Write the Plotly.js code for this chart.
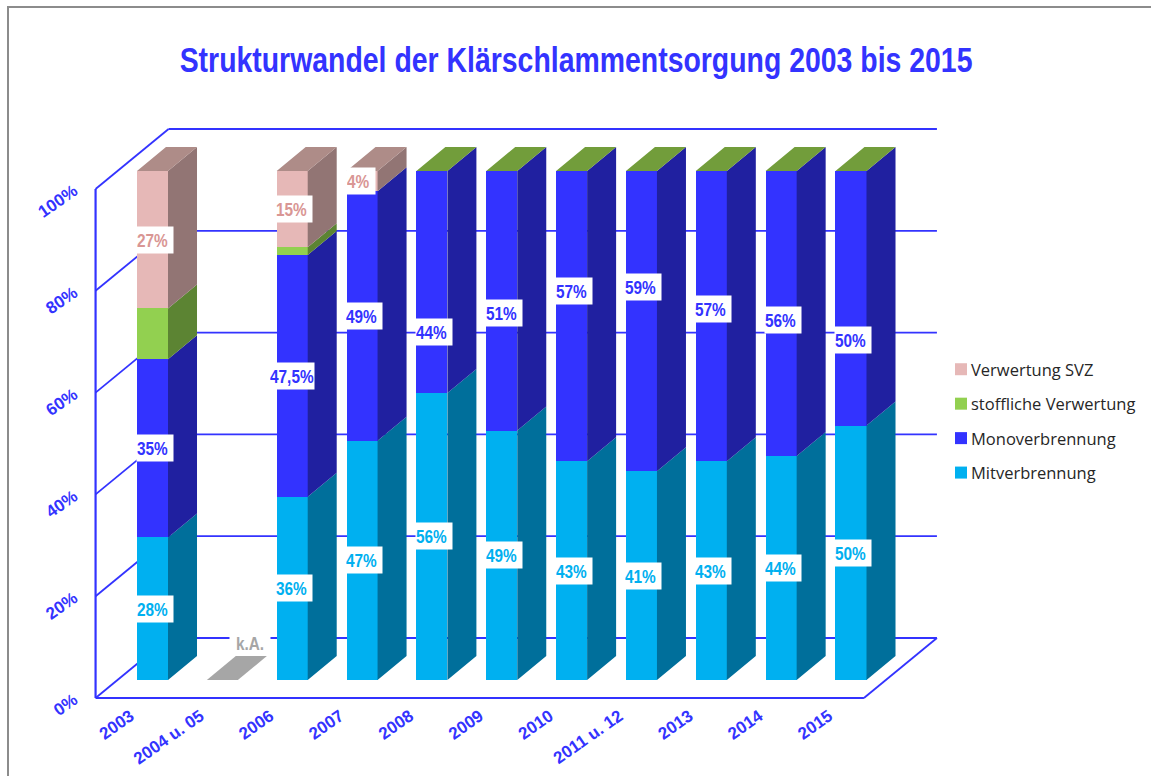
<!DOCTYPE html>
<html><head><meta charset="utf-8">
<script src="https://cdn.plot.ly/plotly-3.0.1.min.js"></script>
<style>html,body{margin:0;padding:0;background:#fff;overflow:hidden}
#frame{position:absolute;left:7px;top:6px;right:-5px;bottom:-5px;border:2px solid #8c8c8c;pointer-events:none}
#chart{position:absolute;left:0;top:0;width:1151px;height:776px}</style>
</head><body><div id="chart"></div><div id="frame"></div>
<script>
const categories = ['2003','2004 u. 05','2006','2007','2008','2009','2010','2011 u. 12','2013','2014','2015'];
const mitverbrennung = [28,null,36,47,56.4,49,43,41,43,44,50];
const monoverbrennung = [35,null,47.5,49,43.6,51,57,59,57,56,50];
const stofflich = [10,null,1.5,0,0,0,0,0,0,0,0];
const svz = [27,null,15,4,0,0,0,0,0,0,0];
const monoLabels = ['35%',null,'47,5%','49%','44%','51%','57%','59%','57%','56%','50%'];
const mitLabels = ['28%',null,'36%','47%','56%','49%','43%','41%','43%','44%','50%'];
const svzLabels = ['27%',null,'15%','4%',null,null,null,null,null,null,null];
// value level at which the hand-placed Monoverbrennung labels sit in the reference
const monoLabelLevel = [null,null,null,null,68.4,72.1,76.4,77.2,72.9,70.7,66.8];
const yTicks = [0,20,40,60,80,100];

const BLUE='#3333ff';
const SANS='"Liberation Sans",Arial,sans-serif';
const PX=69.85, PY=5.09, X0=152.5, Y0=680;        // axis scale used for the range below
const L=88,R=945,T=115,B=702;
const BW=0.444, DX=29/PX, DY=24/PY;               // bar width and 3D depth of a bar
const SX=22/PX, SY=18/PY;                         // bar plane offset from floor front
const WX=73/PX, WY=60/PY;                         // full floor depth

const series=[
 {name:'Mitverbrennung',v:mitverbrennung,c:'#00b0f0',side:'#006f9b'},
 {name:'Monoverbrennung',v:monoverbrennung,c:'#3333ff',side:'#2020a0'},
 {name:'stoffliche Verwertung',v:stofflich,c:'#92d050',side:'#5c8433'},
 {name:'Verwertung SVZ',v:svz,c:'#e6b8b7',side:'#927574'}];
const idx=categories.map((_,i)=>i);
const traces=[];
series.forEach((s,k)=>traces.push({type:'bar',name:s.name,x:idx,y:s.v,width:BW,legendgroup:s.name,legendrank:100*(series.length-k),
  marker:{color:s.c,line:{width:0}},hoverinfo:'x+y'}));

const base=idx.map(()=>0);
series.forEach(s=>{
  const xs=[],ys=[];
  idx.forEach(i=>{
    const h=s.v[i]||0; if(h>0){
      const r=i+BW/2,b=base[i],t=b+h;
      xs.push(r,r+DX,r+DX,r,r,null); ys.push(b,b+DY,t+DY,t,b,null);
    }
    base[i]+=h;
  });
  traces.push({type:'scatter',mode:'lines',x:xs,y:ys,fill:'toself',fillcolor:s.side,line:{width:0,color:s.side},
    showlegend:false,hoverinfo:'skip'});
});
const topGroups={brown:{c:'#ae8c88',x:[],y:[]},green:{c:'#729d3b',x:[],y:[]},grey:{c:'#a6a6a6',x:[],y:[]}};
idx.forEach(i=>{
  const g=mitverbrennung[i]===null?topGroups.grey:(svz[i]>0?topGroups.brown:topGroups.green);
  const l=i-BW/2,r=i+BW/2,t=base[i];
  g.x.push(l,r,r+DX,l+DX,l,null); g.y.push(t,t,t+DY,t+DY,t,null);
});
Object.values(topGroups).forEach(g=>traces.push({type:'scatter',mode:'lines',x:g.x,y:g.y,fill:'toself',
  fillcolor:g.c,line:{width:0,color:g.c},showlegend:false,hoverinfo:'skip'}));

const shapes=[];
const xl=-0.5-SX, xr=xl+categories.length;
const seg=(x0,y0,x1,y1,w)=>shapes.push({type:'line',layer:'below',xref:'x',yref:'y',x0,y0,x1,y1,line:{color:BLUE,width:w||1.8}});
yTicks.forEach(v=>{
  seg(xl,v-SY,xl+WX,v-SY+WY);
  seg(xl+WX,v-SY+WY,xr+WX,v-SY+WY);
});
seg(xl,-SY,xl,100-SY,2.2);
seg(xl,-SY,xr,-SY,2.2);
seg(xr,-SY,xr+WX,-SY+WY);

const annotations=[];
const boxWidth=t=>t.length===2?28:t.length===3?36:44;
const boxShift=t=>t.length===2?-1:t.length===3?2:0;
const lab=(i,y,text,color)=>annotations.push({x:i,y,xref:'x',yref:'y',xshift:boxShift(text),text,showarrow:false,
  bgcolor:'#fff',borderpad:0,width:boxWidth(text),height:26,align:'left',valign:'middle',
  font:{family:SANS,size:19,color,weight:700}});
idx.forEach(i=>{
  if(mitLabels[i]) lab(i,mitverbrennung[i]/2,mitLabels[i],'#00b0f0');
  if(monoLabels[i]) lab(i,monoLabelLevel[i]??(mitverbrennung[i]+monoverbrennung[i]/2),monoLabels[i],BLUE);
  if(svzLabels[i]) lab(i,100-svz[i]/2,svzLabels[i],'#d99694');
});
annotations.push({x:1+DX/2+0.185,y:7.3,xref:'x',yref:'y',text:'k.A.',showarrow:false,bgcolor:'#fff',borderpad:0,width:40,height:22,
  font:{family:SANS,size:19,color:'#a6a6a6',weight:700}});

const layout={
  width:1151,height:776,margin:{l:L,r:1151-R,t:T,b:776-B,pad:0,autoexpand:false},autosize:false,
  paper_bgcolor:'#fff',plot_bgcolor:'rgba(0,0,0,0)',barmode:'stack',showlegend:true,hovermode:false,
  title:{text:'Strukturwandel der Klärschlammentsorgung 2003 bis 2015',xref:'container',yref:'container',x:0.5005,y:1-60/776,
    xanchor:'center',yanchor:'middle',font:{family:SANS,size:35,color:BLUE,weight:700}},
  xaxis:{range:[(L-X0)/PX,(R-X0)/PX],tickmode:'array',tickvals:idx.map(i=>i-SX),ticktext:categories,tickangle:-35,
    showgrid:false,zeroline:false,showline:false,ticks:'',fixedrange:true,automargin:false,
    tickfont:{family:SANS,size:17,color:BLUE,weight:700}},
  yaxis:{range:[(Y0-B)/PY,(Y0-T)/PY],tickmode:'array',tickvals:yTicks.map(v=>v-SY),ticktext:yTicks.map(v=>v+'%'),tickangle:-35,
    showgrid:false,zeroline:false,showline:false,ticks:'',fixedrange:true,automargin:false,ticklabelstandoff:13,
    tickfont:{family:SANS,size:17,color:BLUE,weight:700}},
  legend:{x:(941-L)/(R-L),xanchor:'left',y:1-(352-T)/(B-T),yanchor:'top',traceorder:'grouped',tracegroupgap:10,
    bgcolor:'rgba(0,0,0,0)',font:{family:'"Open Sans",sans-serif',size:16.5,color:'#262626'}},
  shapes,annotations
};
function squeeze(el,len){
  el.setAttribute('textLength',len);
  el.setAttribute('lengthAdjust','spacingAndGlyphs');
}
Plotly.newPlot('chart',traces,layout,{displayModeBar:false,staticPlot:true}).then(gd=>{
  gd.querySelectorAll('.legendtext').forEach(t=>t.setAttribute('x',30));
  gd.querySelectorAll('.annotation-text').forEach(t=>squeeze(t,t.getComputedTextLength()*0.81));
  const title=gd.querySelector('.gtitle');
  if(title){
    const w=title.getComputedTextLength(), sx=793/w, cx=+title.getAttribute('x');
    title.setAttribute('transform',`matrix(${sx},0,0,1,${cx*(1-sx)},0)`);
  }
});
</script></body></html>
